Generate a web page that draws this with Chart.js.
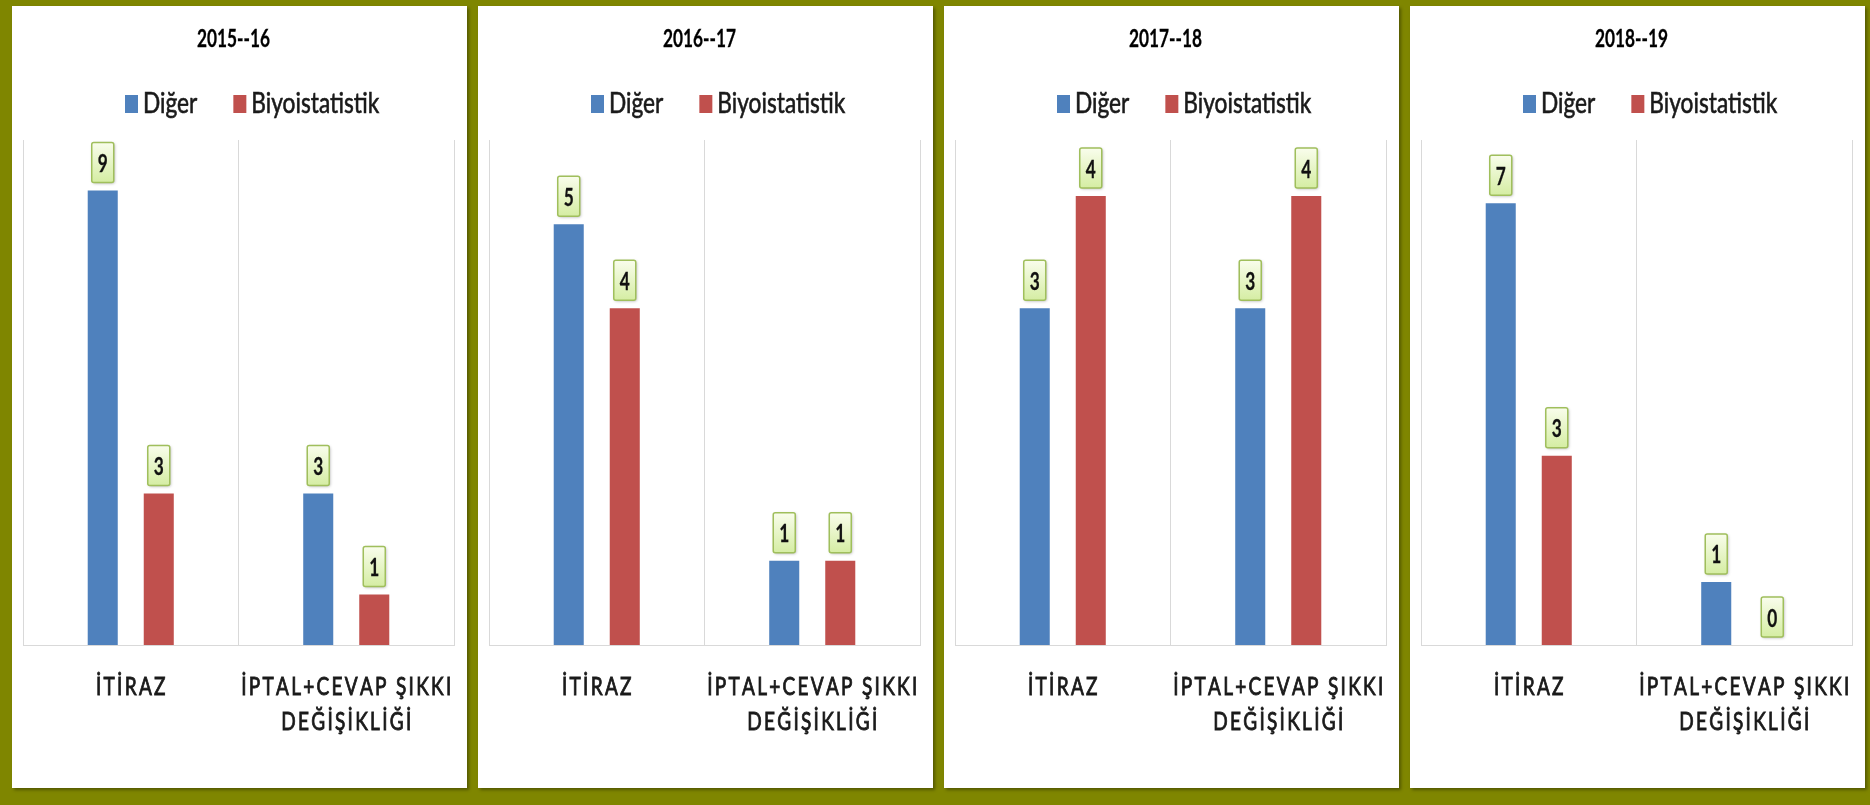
<!DOCTYPE html>
<html>
<head>
<meta charset="utf-8">
<script src="https://cdn.jsdelivr.net/npm/chart.js@4"></script>
<style>
  html, body { margin: 0; padding: 0; }
  body { width: 1870px; height: 805px; background: #7f8600; position: relative; overflow: hidden; }
  .panel { position: absolute; top: 6px; width: 455px; height: 782px; background: #fff; box-shadow: 2px 2px 3px rgba(0,0,0,0.35); }
</style>
</head>
<body>
<script>
// values
const seasons = ["2015--16", "2016--17", "2017--18", "2018--19"];
const categories = [["İTİRAZ"], ["İPTAL+CEVAP ŞIKKI", "DEĞİŞİKLİĞİ"]];
const seriesNames = ["Diğer", "Biyoistatistik"];
const digerValues = [[9, 3], [5, 1], [3, 3], [7, 1]];
const biyoValues = [[3, 1], [4, 1], [4, 4], [3, 0]];
const axisMax = [10, 6, 4.5, 8];

const seriesColors = ["#4f81bd", "#c0504d"];
const fam = 'Lato, "Open Sans", sans-serif';
const titleFont = "bold 24px " + fam;
const legendFont = "28px " + fam;
const catFont = "25px " + fam;
const valueFont = "bold 24px " + fam;
const catSpacing = 3;

// the source picture is squeezed sideways, so text is drawn narrowed
function textWidth(ctx, txt, spacing) {
    if (!spacing) return ctx.measureText(txt).width;
    let w = 0;
    for (const ch of txt) w += ctx.measureText(ch).width;
    return w + spacing * ([...txt].length - 1);
}

function drawNarrow(ctx, txt, x, baseline, sx, spacing, align, stroke) {
    const w = textWidth(ctx, txt, spacing);
    ctx.save();
    ctx.translate(x, baseline);
    ctx.scale(sx, 1);
    ctx.textAlign = "left";
    ctx.textBaseline = "alphabetic";
    ctx.strokeStyle = ctx.fillStyle;
    ctx.lineWidth = stroke || 0;
    const put = (t, px) => {
        ctx.fillText(t, px, 0);
        if (stroke) ctx.strokeText(t, px, 0);
    };
    let cx = align === "center" ? -w / 2 : 0;
    if (!spacing) {
        put(txt, cx);
    } else {
        for (const ch of txt) {
            put(ch, cx);
            cx += ctx.measureText(ch).width + spacing;
        }
    }
    ctx.restore();
    return w * sx;
}

function squeeze(ctx, font, txt, target, spacing) {
    ctx.font = font;
    return target / textWidth(ctx, txt, spacing);
}

const panelDecor = {
    id: "panelDecor",
    afterDatasetsDraw(chart) {
        const ctx = chart.ctx;
        ctx.save();
        const sx = squeeze(ctx, titleFont, "2015--16", 73);
        ctx.font = valueFont;
        chart.data.datasets.forEach((ds, di) => {
            chart.getDatasetMeta(di).data.forEach((bar, i) => {
                const txt = String(ds.data[i]);
                const w = 22, h = 40;
                const x = bar.x - w / 2, y = bar.y - 8 - h;
                const g = ctx.createLinearGradient(0, y, 0, y + h);
                g.addColorStop(0, "#f9fdec");
                g.addColorStop(1, "#d5eda3");
                ctx.shadowColor = "rgba(0,0,0,0.3)";
                ctx.shadowBlur = 3;
                ctx.shadowOffsetX = 1;
                ctx.shadowOffsetY = 1;
                ctx.fillStyle = g;
                ctx.beginPath();
                ctx.roundRect(x, y, w, h, 2);
                ctx.fill();
                ctx.shadowColor = "transparent";
                ctx.strokeStyle = "#a0bf5c";
                ctx.lineWidth = 1.5;
                ctx.stroke();
                ctx.fillStyle = "#111";
                drawNarrow(ctx, txt, bar.x, bar.y - 18.5, sx, 0, "center", 0.3);
            });
        });
        ctx.restore();
    },
    afterDraw(chart, args, opts) {
        const ctx = chart.ctx;
        ctx.save();

        // title
        ctx.fillStyle = "#000";
        const tsx = squeeze(ctx, titleFont, "2015--16", 73);
        drawNarrow(ctx, opts.title, 221.5, 41, tsx, 0, "center", 0.3);

        // legend
        const lsx = squeeze(ctx, legendFont, "Biyoistatistik", 128);
        let lx = 113;
        chart.data.datasets.forEach((ds) => {
            ctx.fillStyle = ds.backgroundColor;
            ctx.fillRect(lx, 89, 13, 18);
            ctx.fillStyle = "#1a1a1a";
            const w = drawNarrow(ctx, ds.label, lx + 18, 107, lsx, 0, "left", 0.6);
            lx += 18 + w + 36;
        });

        // category labels
        const xs = chart.scales.x;
        const csx = squeeze(ctx, catFont, "İPTAL+CEVAP ŞIKKI", 210, catSpacing);
        ctx.fillStyle = "#1a1a1a";
        chart.data.labels.forEach((lines, i) => {
            const cx = xs.getPixelForValue(i);
            lines.forEach((ln, k) => drawNarrow(ctx, ln, cx, chart.chartArea.bottom + 50 + k * 35, csx, catSpacing, "center", 0.9));
        });
        ctx.restore();
    }
};

seasons.forEach((season, p) => {
    const div = document.createElement("div");
    div.className = "panel";
    div.style.left = (12 + 466 * p) + "px";
    const canvas = document.createElement("canvas");
    canvas.width = 455;
    canvas.height = 782;
    div.appendChild(canvas);
    document.body.appendChild(div);

    new Chart(canvas, {
        type: "bar",
        data: {
            labels: categories,
            datasets: [
                { label: seriesNames[0], data: digerValues[p], backgroundColor: seriesColors[0] },
                { label: seriesNames[1], data: biyoValues[p], backgroundColor: seriesColors[1] }
            ]
        },
        options: {
            responsive: false,
            animation: false,
            devicePixelRatio: 1,
            layout: { padding: { left: 11, right: 13, top: 134, bottom: 143 } },
            categoryPercentage: 0.52,
            barPercentage: 0.536,
            plugins: {
                legend: { display: false },
                title: { display: false },
                tooltip: { enabled: false },
                panelDecor: { title: season }
            },
            scales: {
                x: {
                    ticks: { display: false },
                    grid: { color: "#d9d9d9", drawTicks: false, offset: true },
                    border: { color: "#d9d9d9" }
                },
                y: { display: false, min: 0, max: axisMax[p] }
            }
        },
        plugins: [panelDecor]
    });
});
</script>
</body>
</html>
